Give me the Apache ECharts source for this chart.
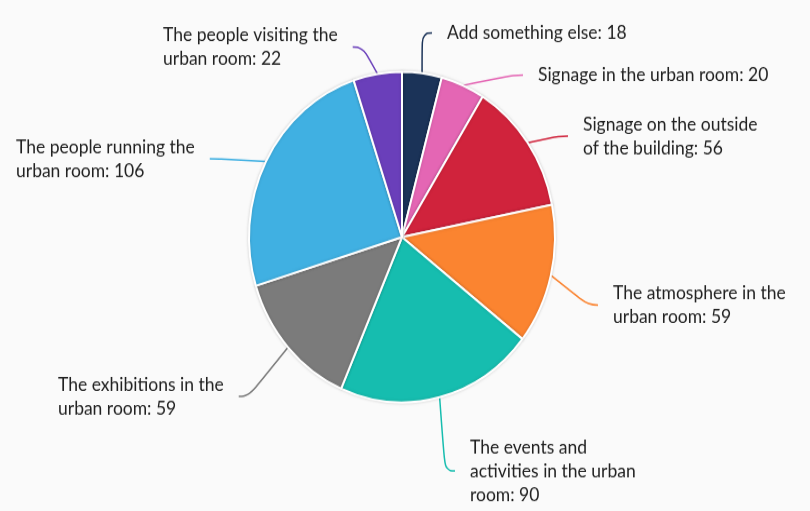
<!DOCTYPE html>
<html>
<head>
<meta charset="utf-8">
<script src="https://cdn.jsdelivr.net/npm/echarts@6/dist/echarts.min.js"></script>
<style>
  html, body { margin: 0; padding: 0; background: #fafafa; }
  body { width: 810px; height: 511px; overflow: hidden; }
  #main { width: 810px; height: 473px; transform: scaleY(1.08); transform-origin: 0 0; }
</style>
</head>
<body>
<div id="main"></div>
<script>
var categories = [
    'Add something else',
    'Signage in the urban room',
    'Signage on the outside\nof the building',
    'The atmosphere in the\nurban room',
    'The events and\nactivities in the urban\nroom',
    'The exhibitions in the\nurban room',
    'The people running the\nurban room',
    'The people visiting the\nurban room'
];
var values = [18, 20, 56, 59, 90, 59, 106, 22];
var colors = ['#1b3358', '#e466b4', '#d0233c', '#fb8430', '#16bdaf', '#7b7b7b', '#40b0e2', '#6a3fba'];

// where each label's text starts (x) and its middle (y), chart coords before the stretch
var labelPos = [
    [447, 30.5, 'left'],
    [538, 69.5, 'left'],
    [583, 126, 'left'],
    [613, 282.5, 'left'],
    [470, 436, 'left'],
    [58, 367, 'left'],
    [16, 147, 'left'],
    [163, 43.5, 'left']
];
var gap = 15;

var chart = echarts.init(document.getElementById('main'));

var data = categories.map(function (name, i) {
    var rightSide = labelPos[i][0] > 402;
    return {
        name: name,
        value: values[i],
        itemStyle: { color: colors[i] },
        label: { padding: rightSide ? [0, 0, 0, gap] : [0, gap, 0, 0] }
    };
});

chart.setOption({
    backgroundColor: '#fafafa',
    animation: false,
    series: [{
        type: 'pie',
        center: [402, 219.5],
        radius: [0, 153],
        startAngle: 90,
        clockwise: true,
        data: data,
        itemStyle: {
            borderColor: '#ffffff',
            borderWidth: 2,
            shadowBlur: 3,
            shadowColor: 'rgba(0,0,0,0.15)'
        },
        label: {
            show: true,
            formatter: '{b}: {c}',
            color: '#222222',
            fontFamily: 'Lato',
            fontSize: 17.5,
            lineHeight: 22
        },
        labelLine: {
            show: true,
            smooth: 0.5,
            length: 14,
            length2: 10,
            lineStyle: { width: 1.5 }
        },
        labelLayout: function (params) {
            var i = params.dataIndex;
            var p = labelPos[i];
            var x = p[0] > 402 ? p[0] - gap : p[0];
            return {
                x: x,
                y: p[1],
                align: p[2],
                verticalAlign: 'middle'
            };
        }
    }]
});
</script>
</body>
</html>
